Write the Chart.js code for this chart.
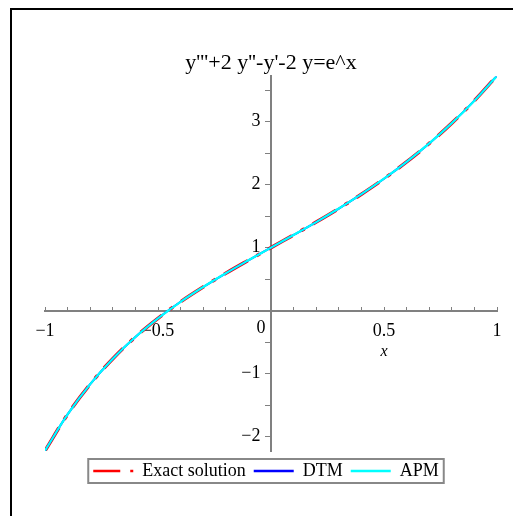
<!DOCTYPE html>
<html>
<head>
<meta charset="utf-8">
<script src="https://cdn.jsdelivr.net/npm/chart.js@4/dist/chart.umd.min.js"></script>
<style>
  html, body { margin: 0; padding: 0; background: #fff; }
  #frame { position: absolute; left: 10px; top: 8px; width: 520px; height: 520px;
           border-top: 2px solid #000; border-left: 2px solid #000; pointer-events: none; }
  #wrap { position: absolute; left: 0; top: 0; width: 513px; height: 516px; }
</style>
</head>
<body>
<div id="wrap"><canvas id="c" width="513" height="516"></canvas></div>
<div id="frame"></div>
<script>
// values
var xs = [-1, -0.9, -0.8, -0.7, -0.6, -0.5, -0.4, -0.3, -0.2, -0.1, 0,
          0.1, 0.2, 0.3, 0.4, 0.5, 0.6, 0.7, 0.8, 0.9, 1];
var exactY = [-2.226, -1.649, -1.168, -0.764, -0.419, -0.122, 0.140, 0.375, 0.593, 0.799, 1.000,
              1.201, 1.406, 1.621, 1.849, 2.095, 2.362, 2.655, 2.978, 3.335, 3.731];
var dtmY = [-2.226, -1.649, -1.168, -0.764, -0.419, -0.122, 0.140, 0.375, 0.593, 0.799, 1.000,
            1.201, 1.406, 1.621, 1.849, 2.095, 2.362, 2.655, 2.978, 3.335, 3.731];
var apmY = [-2.225, -1.649, -1.168, -0.764, -0.419, -0.122, 0.140, 0.375, 0.593, 0.799, 1.000,
            1.201, 1.406, 1.621, 1.849, 2.095, 2.362, 2.655, 2.978, 3.334, 3.730];
var seriesNames = ['Exact solution', 'DTM', 'APM'];
var titleText = "y'''+2 y''-y'-2 y=e^x";
var xTicks = [-1, -0.9, -0.8, -0.7, -0.6, -0.5, -0.4, -0.3, -0.2, -0.1, 0,
              0.1, 0.2, 0.3, 0.4, 0.5, 0.6, 0.7, 0.8, 0.9, 1];
var yTicks = [-2, -1.5, -1, -0.5, 0, 0.5, 1, 1.5, 2, 2.5, 3, 3.5];
var xMajor = [-1, -0.5, 0.5, 1];   // labelled x ticks (0 drawn beside the axis)
var yMajor = [-2, -1, 1, 2, 3];

function pts(ys) {
  return xs.map(function(x, i) { return { x: x, y: ys[i] }; });
}
function near(v, list) {
  return list.some(function(t) { return Math.abs(v - t) < 1e-6; });
}
function fmt(v) {
  var s = String(Math.round(v * 10) / 10);
  return s.replace('-', '\u2212');
}

var SERIF = '"Liberation Serif", "Times New Roman", serif';

// extra bits: legend frame, "x" axis label, "0" beside the y axis
var extras = {
  id: 'extras',
  afterLayout: function(chart) {
    // legend sits a little left of centre in the original
    chart.legend.left -= 5;
    chart.legend.right -= 5;
  },
  afterDraw: function(chart) {
    var ctx = chart.ctx;
    var sx = chart.scales.x, sy = chart.scales.y;
    ctx.save();
    ctx.fillStyle = '#000';
    ctx.font = '18px ' + SERIF;
    ctx.textAlign = 'center';
    ctx.textBaseline = 'middle';
    ctx.fillText('0', sx.getPixelForValue(0) - 10, sy.getPixelForValue(0) + 18);
    ctx.font = 'italic 16px ' + SERIF;
    ctx.fillText('x', sx.getPixelForValue(0.5), sy.getPixelForValue(0) + 41);

    var hb = chart.legend.legendHitBoxes;
    if (hb && hb.length) {
      var l = hb[0].left, r = hb[hb.length - 1].left + hb[hb.length - 1].width;
      var t = hb[0].top, h = hb[0].height;
      ctx.strokeStyle = '#888';
      ctx.lineWidth = 2;
      ctx.strokeRect(l - 5, t - 3, r - l + 10, h + 6);
    }
    ctx.restore();
  }
};

new Chart(document.getElementById('c'), {
  type: 'line',
  data: {
    datasets: [{
      label: seriesNames[0],
      data: pts(exactY),
      borderColor: '#ff0000',
      backgroundColor: '#ff0000',
      borderWidth: 3.5,
      borderDash: [27, 10, 4, 10],
      order: 3
    }, {
      label: seriesNames[1],
      data: pts(dtmY),
      borderColor: '#0000ff',
      backgroundColor: '#0000ff',
      borderWidth: 2,
      order: 2
    }, {
      label: seriesNames[2],
      data: pts(apmY),
      borderColor: '#00ffff',
      backgroundColor: '#00ffff',
      borderWidth: 2.2,
      order: 1
    }]
  },
  options: {
    responsive: false,
    animation: false,
    layout: { padding: { left: 45, right: 16, top: 43, bottom: 26 } },
    elements: {
      point: { radius: 0 },
      line: { tension: 0.4, fill: false }
    },
    plugins: {
      title: {
        display: true,
        text: titleText,
        color: '#000',
        font: { family: SERIF, size: 22, weight: 'normal' },
        padding: { top: 7, bottom: 0 }
      },
      legend: {
        position: 'bottom',
        title: { display: true, text: '', font: { size: 3, lineHeight: 1 }, padding: 0 },
        labels: {
          usePointStyle: true,
          pointStyle: 'line',
          pointStyleWidth: 40,
          padding: 8,
          color: '#000',
          font: { family: SERIF, size: 18 },
          sort: function(a, b) { return a.datasetIndex - b.datasetIndex; },
          generateLabels: function(chart) {
            var items = Chart.defaults.plugins.legend.labels.generateLabels(chart);
            items.forEach(function(it) {
              var ds = chart.data.datasets[it.datasetIndex];
              it.lineDash = ds.borderDash || [];
              it.lineWidth = 2.5;
              it.strokeStyle = ds.borderColor;
            });
            return items;
          }
        }
      },
      tooltip: { enabled: false }
    },
    scales: {
      x: {
        type: 'linear',
        min: -1,
        max: 1,
        position: { y: 0 },
        border: { display: true, color: '#808080', width: 2 },
        grid: { drawOnChartArea: false, drawTicks: true, tickLength: -5, color: '#808080' },
        afterBuildTicks: function(s) {
          s.ticks = xTicks.map(function(v) { return { value: v }; });
        },
        ticks: {
          autoSkip: false,
          maxRotation: 0,
          padding: 10,
          color: '#000',
          font: { family: SERIF, size: 18, lineHeight: 1.7 },
          callback: function(v) { return near(v, xMajor) ? fmt(v) : ''; }
        }
      },
      y: {
        type: 'linear',
        min: -2.23,
        max: 3.72,
        position: { x: 0 },
        border: { display: true, color: '#808080', width: 2 },
        grid: { drawOnChartArea: false, drawTicks: true, tickLength: 5, color: '#808080' },
        afterBuildTicks: function(s) {
          s.ticks = yTicks.map(function(v) { return { value: v }; });
        },
        ticks: {
          autoSkip: false,
          color: '#000',
          font: { family: SERIF, size: 18 },
          callback: function(v) { return near(v, yMajor) ? fmt(v) + '  \u200A' : ''; }
        }
      }
    }
  },
  plugins: [extras]
});
</script>
</body>
</html>
